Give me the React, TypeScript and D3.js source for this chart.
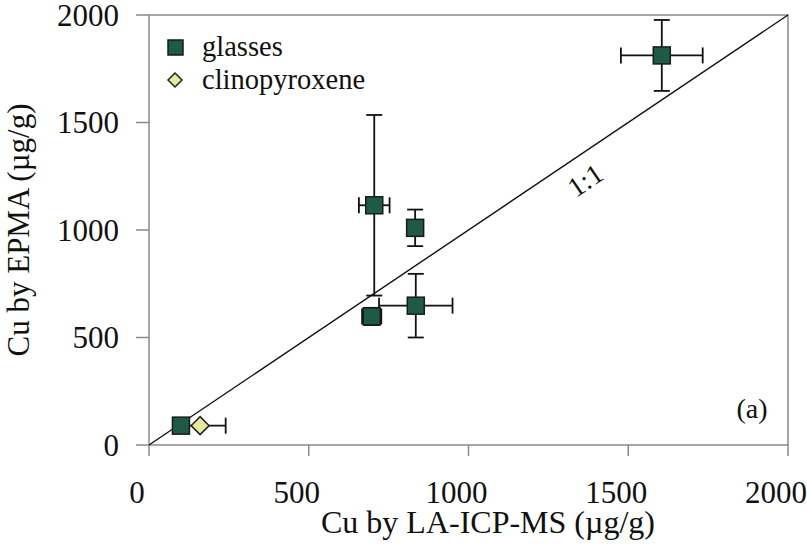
import React from "react";
import * as d3 from "d3";

// Cu concentrations (µg/g): LA-ICP-MS (x) vs EPMA (y)
const glassX = [100, 697, 705, 833, 835, 1605];
const glassY = [90, 598, 1115, 1010, 648, 1812];
const glassXErr = [0, 30, 48, 0, 115, 128];
const glassYErr = [0, 40, 420, 85, 148, 165];

const cpxX = [160];
const cpxY = [90];
const cpxXErr = [80];
const cpxYErr = [0];

const tickValues = [0, 500, 1000, 1500, 2000];

const W = 807;
const H = 544;
const FONT = "'Liberation Serif', 'Times New Roman', serif";

export default function App() {
  const x = d3.scaleLinear().domain([0, 2000]).range([149, 788]);
  const y = d3.scaleLinear().domain([0, 2000]).range([445, 15]);

  const glasses = glassX.map((v, i) => ({ x: v, y: glassY[i], ex: glassXErr[i], ey: glassYErr[i] }));
  const cpx = cpxX.map((v, i) => ({ x: v, y: cpxY[i], ex: cpxXErr[i], ey: cpxYErr[i] }));

  const cap = 8;
  const errBars = (d: { x: number; y: number; ex: number; ey: number }, key: string) => {
    const cx = x(d.x);
    const cy = y(d.y);
    const parts: JSX.Element[] = [];
    if (d.ex > 0) {
      const x0 = x(d.x - d.ex);
      const x1 = x(d.x + d.ex);
      parts.push(<line key="h" x1={x0} x2={x1} y1={cy} y2={cy} />);
      parts.push(<line key="hc0" x1={x0} x2={x0} y1={cy - cap} y2={cy + cap} />);
      parts.push(<line key="hc1" x1={x1} x2={x1} y1={cy - cap} y2={cy + cap} />);
    }
    if (d.ey > 0) {
      const y0 = y(d.y - d.ey);
      const y1 = y(d.y + d.ey);
      parts.push(<line key="v" x1={cx} x2={cx} y1={y0} y2={y1} />);
      parts.push(<line key="vc0" x1={cx - cap} x2={cx + cap} y1={y0} y2={y0} />);
      parts.push(<line key="vc1" x1={cx - cap} x2={cx + cap} y1={y1} y2={y1} />);
    }
    return (
      <g key={key} stroke="#111" strokeWidth={1.8}>
        {parts}
      </g>
    );
  };

  const sq = 17;
  const dm = 9;
  const diamond = (cx: number, cy: number) =>
    `M${cx},${cy - dm}L${cx + dm},${cy}L${cx},${cy + dm}L${cx - dm},${cy}Z`;

  const [x0, x1] = x.range();
  const [y0, y1] = y.range();
  const slopeDeg = (Math.atan2(y(0) - y(2000), x(2000) - x(0)) * -180) / Math.PI;

  return (
    <svg
      width={W}
      height={H}
      style={{ position: "absolute", left: 0, top: 0, background: "#fff" }}
      fontFamily={FONT}
    >
      {/* plot frame */}
      <rect x={x0} y={y1} width={x1 - x0} height={y0 - y1} fill="none" stroke="#8a8a8a" strokeWidth={1.5} />

      {/* ticks */}
      {tickValues.map((t) => (
        <g key={"xt" + t}>
          <line x1={x(t)} x2={x(t)} y1={y0} y2={y0 + 11} stroke="#8a8a8a" strokeWidth={1.5} />
          <text x={x(t) - 12} y={503} fontSize={31} textAnchor="middle" fill="#111">
            {t}
          </text>
        </g>
      ))}
      {tickValues.map((t) => (
        <g key={"yt" + t}>
          <line x1={x0 - 13} x2={x0} y1={y(t)} y2={y(t)} stroke="#8a8a8a" strokeWidth={1.5} />
          <text x={119} y={y(t)} dy="0.35em" fontSize={31} textAnchor="end" fill="#111">
            {t}
          </text>
        </g>
      ))}

      {/* axis titles */}
      <text x={488} y={533} fontSize={32} textAnchor="middle" fill="#111">
        Cu by LA-ICP-MS (µg/g)
      </text>
      <text
        transform={`translate(29,${(y0 + y1) / 2}) rotate(-90)`}
        fontSize={31}
        textAnchor="middle"
        fill="#111"
      >
        Cu by EPMA (µg/g)
      </text>

      {/* 1:1 line */}
      <line x1={x(0)} y1={y(0)} x2={x(2000)} y2={y(2000)} stroke="#111" strokeWidth={1.4} />
      <text
        transform={`translate(585,180) rotate(${slopeDeg})`}
        fontSize={28}
        textAnchor="middle"
        dy="0.35em"
        fill="#111"
      >
        1:1
      </text>

      {/* error bars */}
      {cpx.map((d, i) => errBars(d, "ce" + i))}
      {glasses.map((d, i) => errBars(d, "ge" + i))}

      {/* markers */}
      {glasses.map((d, i) => (
        <rect
          key={"g" + i}
          x={x(d.x) - sq / 2}
          y={y(d.y) - sq / 2}
          width={sq}
          height={sq}
          fill="#1f5a46"
          stroke="#1a1a1a"
          strokeWidth={1.5}
        />
      ))}
      {cpx.map((d, i) => (
        <path key={"c" + i} d={diamond(x(d.x), y(d.y))} fill="#e6eb9c" stroke="#222" strokeWidth={1.5} />
      ))}

      {/* legend */}
      <rect x={168} y={40} width={15} height={15} fill="#1f5a46" stroke="#1a1a1a" strokeWidth={1.5} />
      <text x={202} y={56} fontSize={28.5} fill="#111">
        glasses
      </text>
      <path d={`M175,73L182,80L175,87L168,80Z`} fill="#e6eb9c" stroke="#222" strokeWidth={1.5} />
      <text x={202} y={89} fontSize={28.5} fill="#111">
        clinopyroxene
      </text>

      {/* panel label */}
      <text x={752} y={418} fontSize={28} textAnchor="middle" fill="#111">
        (a)
      </text>
    </svg>
  );
}
